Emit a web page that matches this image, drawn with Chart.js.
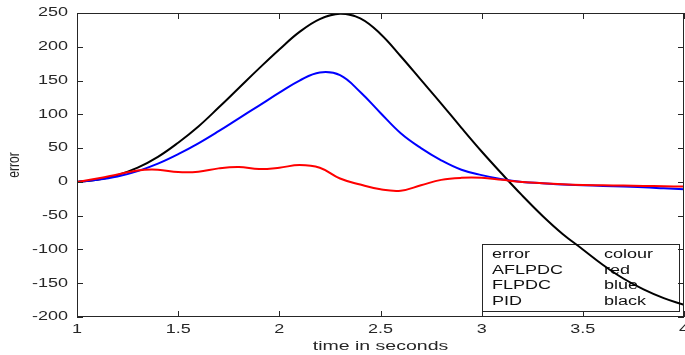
<!DOCTYPE html>
<html>
<head>
<meta charset="utf-8">
<script src="https://cdn.jsdelivr.net/npm/chart.js@4"></script>
<style>
  html, body { margin: 0; padding: 0; background: #fff; }
  #grafica { display: block; }
</style>
</head>
<body>
<canvas id="grafica" width="685" height="355"></canvas>
<script>
// tiempo en segundos
const tiempos = [1.0, 1.1, 1.2, 1.3, 1.4, 1.5, 1.6, 1.7, 1.8, 1.9, 2.0,
  2.1, 2.2, 2.3, 2.4, 2.5, 2.6, 2.7, 2.8, 2.9, 3.0,
  3.1, 3.2, 3.3, 3.4, 3.5, 3.6, 3.7, 3.8, 3.9, 4.0];

// error de cada controlador
const errorAFLPDC = [0, 5, 11, 17, 18, 14.5, 15, 20, 22, 19, 21,
  25, 21, 5, -4, -11, -13, -5, 3, 6, 6,
  3, 0, -2, -3.5, -4.5, -5, -5.5, -6, -6.5, -7];
const errorFLPDC = [0, 3, 8, 16, 27, 41, 57, 75, 94, 113, 132,
  150, 162, 158, 133, 102, 72, 50, 32, 18, 10,
  4, 0, -2, -4, -5, -6, -7, -8, -9.5, -11];
const errorPID = [0, 3, 10, 21, 37, 58, 82, 110, 139, 168, 196,
  222, 241, 249, 242, 219, 186, 151, 116, 80, 45,
  12, -20, -50, -77, -100, -123, -143, -159, -172, -182];

const ticksX = [1, 1.5, 2, 2.5, 3, 3.5, 4];
const ticksY = [-200, -150, -100, -50, 0, 50, 100, 150, 200, 250];

const leyendaNombres = ['AFLPDC', 'FLPDC', 'PID'];
const leyendaColores = ['red', 'blue', 'black'];

const fuente = '12px "Liberation Sans", Arial, sans-serif';
const colorTexto = '#262626';

function textoAncho(ctx, texto, x, y, alinear) {
  ctx.save();
  ctx.translate(x, y);
  ctx.scale(1.5, 1);
  ctx.textAlign = alinear;
  ctx.fillText(texto, 0, 0);
  ctx.restore();
}

function serie(valores) {
  return tiempos.map((t, i) => ({ x: t, y: valores[i] }));
}

const cajaLeyenda = {
  id: 'cajaLeyenda',
  beforeDatasetsDraw(chart) {
    const ctx = chart.ctx;
    const area = chart.chartArea;
    const der = area.right - 4.5;
    const abajo = area.bottom - 5.5;
    const izq = der - 197;
    const arriba = abajo - 67;
    ctx.save();
    ctx.fillStyle = '#fff';
    ctx.fillRect(izq, arriba, der - izq, abajo - arriba);
    ctx.strokeStyle = '#262626';
    ctx.lineWidth = 1;
    ctx.strokeRect(izq, arriba, der - izq, abajo - arriba);
    ctx.font = fuente;
    ctx.fillStyle = '#111';
    ctx.textBaseline = 'middle';
    const filas = [['error', 'colour']].concat(leyendaNombres.map((n, i) => [n, leyendaColores[i]]));
    filas.forEach((f, i) => {
      const y = arriba + 10.5 + i * 15.4;
      textoAncho(ctx, f[0], izq + 9.5, y, 'left');
      textoAncho(ctx, f[1], izq + 121.5, y, 'left');
    });
    ctx.restore();
  }
};

const ejesMatlab = {
  id: 'ejesMatlab',
  afterDraw(chart) {
    const ctx = chart.ctx;
    const area = chart.chartArea;
    const sx = chart.scales.x;
    const sy = chart.scales.y;
    const largo = 6;
    ctx.save();
    ctx.strokeStyle = '#262626';
    ctx.lineWidth = 1;
    ctx.strokeRect(area.left + 0.5, area.top + 0.5, area.right - area.left - 1, area.bottom - area.top - 1);
    ctx.beginPath();
    ticksX.forEach(v => {
      const px = Math.round(sx.getPixelForValue(v)) + 0.5;
      ctx.moveTo(px, area.bottom);
      ctx.lineTo(px, area.bottom - largo);
      ctx.moveTo(px, area.top);
      ctx.lineTo(px, area.top + largo);
    });
    ticksY.forEach(v => {
      const py = Math.round(sy.getPixelForValue(v)) + 0.5;
      ctx.moveTo(area.left, py);
      ctx.lineTo(area.left + largo, py);
      ctx.moveTo(area.right, py);
      ctx.lineTo(area.right - largo, py);
    });
    ctx.stroke();

    ctx.font = fuente;
    ctx.fillStyle = colorTexto;
    ctx.textBaseline = 'middle';
    ticksX.forEach(v => {
      textoAncho(ctx, String(v), sx.getPixelForValue(v), area.bottom + 12.5, 'center');
    });
    ticksY.forEach(v => {
      textoAncho(ctx, String(v), area.left - 9, sy.getPixelForValue(v), 'right');
    });

    // titulos de los ejes
    ctx.font = '13px "Liberation Sans", Arial, sans-serif';
    textoAncho(ctx, 'time in seconds', (area.left + area.right) / 2, area.bottom + 29, 'center');
    ctx.save();
    ctx.translate(14, (area.top + area.bottom) / 2);
    ctx.rotate(-Math.PI / 2);
    ctx.scale(1, 1.4);
    ctx.font = '12px "Liberation Sans", Arial, sans-serif';
    ctx.textAlign = 'center';
    ctx.fillText('error', 0, 0);
    ctx.restore();
    ctx.restore();
  }
};

const ctx = document.getElementById('grafica').getContext('2d');
new Chart(ctx, {
  type: 'line',
  data: {
    datasets: [
      { label: 'AFLPDC', data: serie(errorAFLPDC), borderColor: '#ff0000' },
      { label: 'FLPDC', data: serie(errorFLPDC), borderColor: '#0000ff' },
      { label: 'PID', data: serie(errorPID), borderColor: '#000000' }
    ]
  },
  options: {
    responsive: false,
    animation: false,
    layout: { padding: { top: 13, right: 1, left: 0, bottom: 0 } },
    elements: {
      point: { radius: 0 },
      line: { borderWidth: 2, tension: 0.4, fill: false }
    },
    plugins: {
      legend: { display: false },
      tooltip: { enabled: false }
    },
    scales: {
      x: {
        type: 'linear',
        min: 1,
        max: 4,
        afterBuildTicks: s => { s.ticks = ticksX.map(v => ({ value: v })); },
        afterFit: s => { s.height = 38; },
        grid: { display: false },
        border: { display: false },
        ticks: { display: false }
      },
      y: {
        min: -200,
        max: 250,
        afterBuildTicks: s => { s.ticks = ticksY.map(v => ({ value: v })); },
        afterFit: s => { s.width = 77; },
        grid: { display: false },
        border: { display: false },
        ticks: { display: false }
      }
    }
  },
  plugins: [cajaLeyenda, ejesMatlab]
});
</script>
</body>
</html>
